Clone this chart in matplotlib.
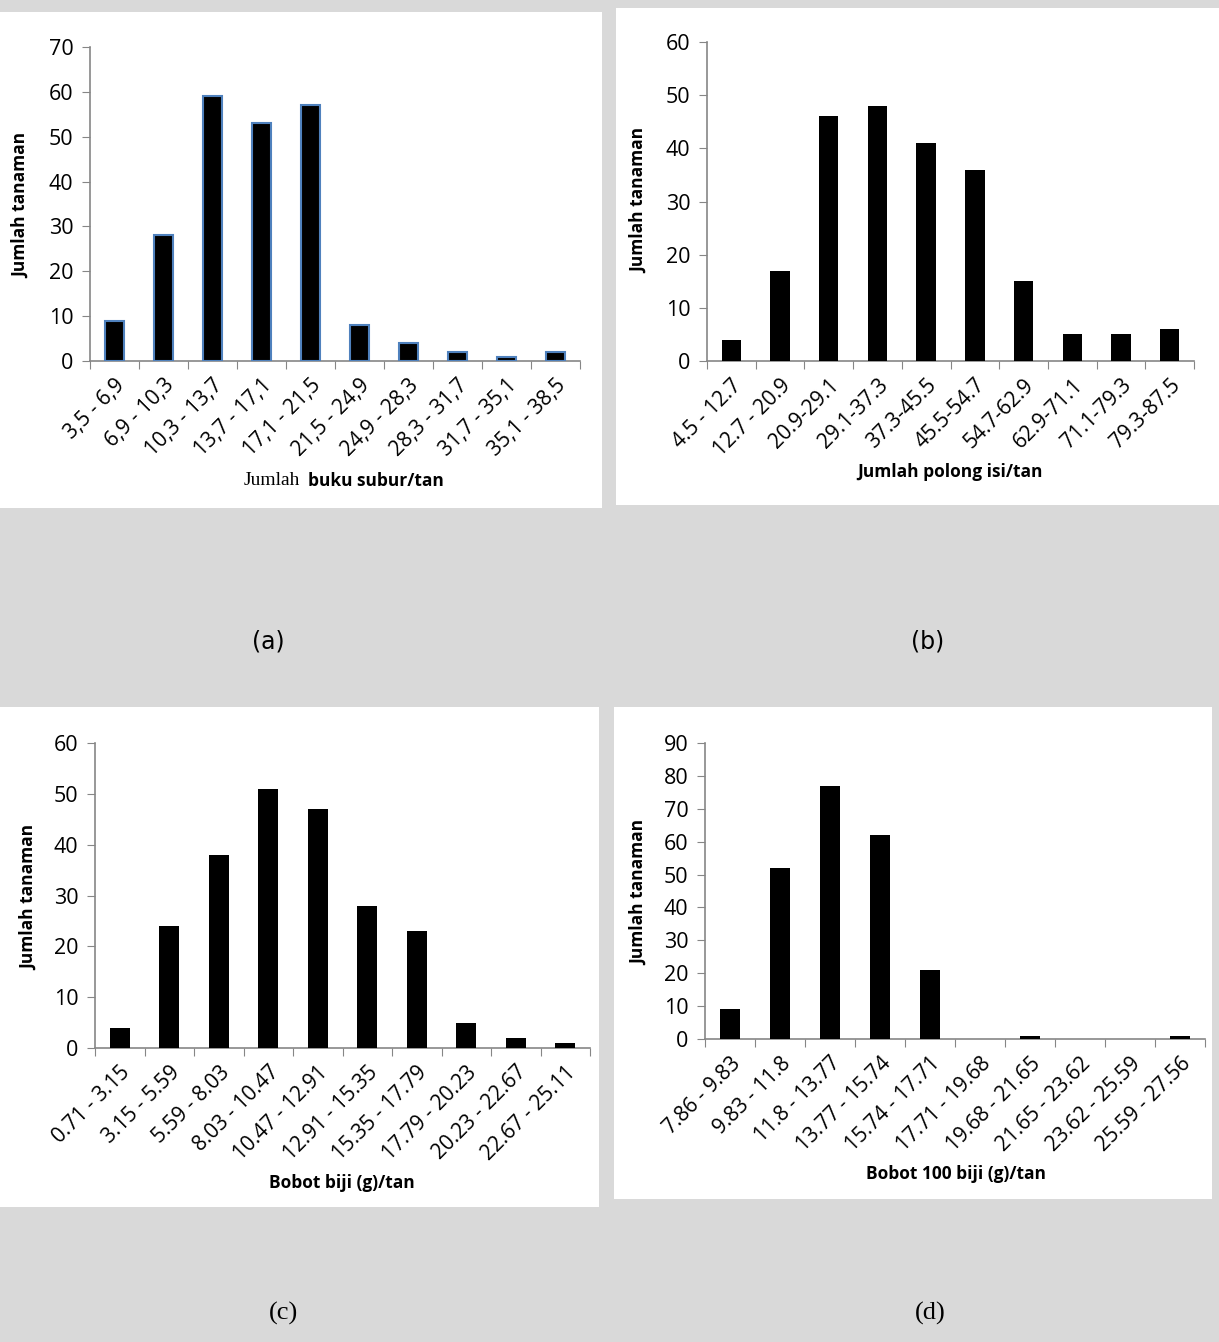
import matplotlib
matplotlib.use("Agg")
import matplotlib.pyplot as plt
from matplotlib.patches import Rectangle
import numpy as np

# frequency tables for the four traits
kelas_a = ["3,5 - 6,9", "6,9 - 10,3", "10,3 - 13,7", "13,7 - 17,1", "17,1 - 21,5",
           "21,5 - 24,9", "24,9 - 28,3", "28,3 - 31,7", "31,7 - 35,1", "35,1 - 38,5"]
jumlah_a = [9, 28, 59, 53, 57, 8, 4, 2, 1, 2]

kelas_b = ["4.5 - 12.7", "12.7 - 20.9", "20.9-29.1", "29.1-37.3", "37.3-45.5",
           "45.5-54.7", "54.7-62.9", "62.9-71.1", "71.1-79.3", "79.3-87.5"]
jumlah_b = [4, 17, 46, 48, 41, 36, 15, 5, 5, 6]

kelas_c = ["0.71 - 3.15", "3.15 - 5.59", "5.59 - 8.03", "8.03 - 10.47", "10.47 - 12.91",
           "12.91 - 15.35", "15.35 - 17.79", "17.79 - 20.23", "20.23 - 22.67", "22.67 - 25.11"]
jumlah_c = [4, 24, 38, 51, 47, 28, 23, 5, 2, 1]

kelas_d = ["7.86 - 9.83", "9.83 - 11.8", "11.8 - 13.77", "13.77 - 15.74", "15.74 - 17.71",
           "17.71 - 19.68", "19.68 - 21.65", "21.65 - 23.62", "23.62 - 25.59", "25.59 - 27.56"]
jumlah_d = [9, 52, 77, 62, 21, 0, 1, 0, 0, 1]

W, H = 1219, 1342
SANS = ["Open Sans", "DejaVu Sans"]
AXIS_GRAY = "#868686"


def px(x, y):
    # pixel position (from top-left) -> figure fraction
    return x / W, 1 - y / H


def histogram(fig, rect, labels, counts, ymax, edge=None):
    x0, y0 = px(rect[0], rect[3])
    x1, y1 = px(rect[2], rect[1])
    ax = fig.add_axes([x0, y0, x1 - x0, y1 - y0])
    ax.set_facecolor("none")
    pos = np.arange(len(counts))
    if edge:
        ax.bar(pos, counts, width=0.4, color="black", edgecolor=edge, linewidth=1.5, zorder=3)
    else:
        ax.bar(pos, counts, width=0.4, color="black", zorder=3)
    ax.set_xlim(-0.5, len(counts) - 0.5)
    ax.set_ylim(0, ymax)
    ax.set_yticks(np.arange(0, ymax + 1, 10))
    ax.set_xticks(np.arange(len(counts) + 1) - 0.5)
    ax.set_xticklabels([])
    ax.set_xticks(pos, minor=True)
    ax.set_xticklabels(labels, minor=True, rotation=45, ha="right", va="top",
                       rotation_mode="anchor", fontsize=15, family=SANS)
    ax.tick_params(axis="x", which="minor", length=0, pad=10)
    ax.tick_params(axis="x", which="major", length=6, color=AXIS_GRAY, direction="out")
    ax.tick_params(axis="y", length=6, color=AXIS_GRAY, direction="out", pad=6)
    for t in ax.get_yticklabels():
        t.set_fontsize(15.5)
        t.set_family(SANS)
    for s in ["top", "right"]:
        ax.spines[s].set_visible(False)
    for s in ["left", "bottom"]:
        ax.spines[s].set_color(AXIS_GRAY)
        ax.spines[s].set_linewidth(1.2)
    return ax


fig = plt.figure(figsize=(W / 100, H / 100), dpi=100)
fig.patch.set_facecolor("#d9d9d9")

# white chart areas behind each panel
for (l, t, r, b) in [(0, 12, 602, 508), (616, 8, 1219, 505), (0, 707, 599, 1207), (614, 707, 1212, 1199)]:
    x0, y0 = px(l, b)
    x1, y1 = px(r, t)
    fig.patches.append(Rectangle((x0, y0), x1 - x0, y1 - y0, transform=fig.transFigure,
                                 facecolor="white", edgecolor="none", zorder=-10))

histogram(fig, (90, 47, 580, 361), kelas_a, jumlah_a, 70, edge="#4f81bd")
histogram(fig, (707, 42, 1194, 361), kelas_b, jumlah_b, 60)
histogram(fig, (95, 743, 590, 1048), kelas_c, jumlah_c, 60)
histogram(fig, (705, 743, 1205, 1039), kelas_d, jumlah_d, 90)

# axis titles
for (x, y) in [(21, 205), (639, 200), (29, 897), (639, 892)]:
    fig.text(*px(x, y), "Jumlah tanaman", rotation=90, ha="center", va="center",
             fontsize=12.5, fontweight="bold", family=SANS)

fig.text(*px(300, 481), "Jumlah", ha="right", va="center", fontsize=14, family="Liberation Serif")
fig.text(*px(308, 481), "buku subur/tan", ha="left", va="center", fontsize=12.5,
         fontweight="bold", family=SANS)
fig.text(*px(950, 472), "Jumlah polong isi/tan", ha="center", va="center", fontsize=12.5,
         fontweight="bold", family=SANS)
fig.text(*px(342, 1183), "Bobot biji (g)/tan", ha="center", va="center", fontsize=12.5,
         fontweight="bold", family=SANS)
fig.text(*px(956, 1174), "Bobot 100 biji (g)/tan", ha="center", va="center", fontsize=12.5,
         fontweight="bold", family=SANS)

# panel letters
fig.text(*px(268, 641), "(a)", ha="center", va="center", fontsize=17, family="DejaVu Sans")
fig.text(*px(928, 641), "(b)", ha="center", va="center", fontsize=17, family="DejaVu Sans")
fig.text(*px(284, 1313), "(c)", ha="center", va="center", fontsize=19, family="Liberation Serif")
fig.text(*px(930, 1313), "(d)", ha="center", va="center", fontsize=19, family="Liberation Serif")

fig.savefig("out.png", dpi=100, facecolor=fig.get_facecolor())
